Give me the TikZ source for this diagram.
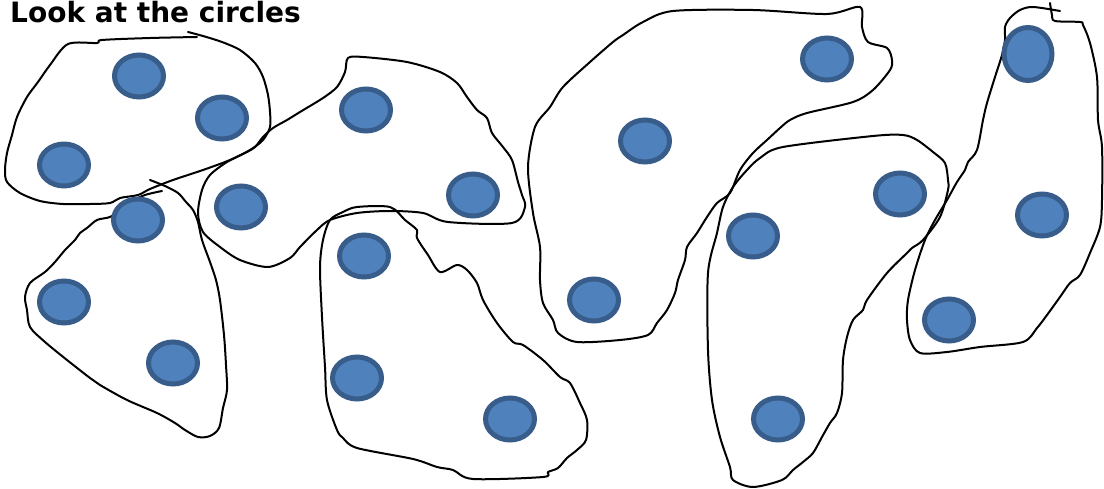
\documentclass[tikz,border=0pt]{standalone}
\usepackage{fontspec}
\setmainfont{DejaVu Sans}
\usepackage{xcolor}
\usepackage{tikz}
\usetikzlibrary{positioning}
\definecolor{dotfill}{HTML}{4F81BD}
\definecolor{dotedge}{HTML}{385D8A}

\begin{document}
\begin{tikzpicture}[x=1pt,y=-1pt,
  blob/.style={draw=black,line width=2pt,line join=round,line cap=round},
  dot/.style={fill=dotfill,draw=dotedge,line width=5pt}]
  \useasboundingbox (0,0) rectangle (1104,489);
  \clip (0,0) rectangle (1104,489);
  % Title
  \node[anchor=base west,inner sep=0pt] (title) at (10,23)
    {\fontsize{28}{28}\selectfont\bfseries Look at the circles};

  % Blob top left
  \draw[blob] plot[smooth,tension=0.5] coordinates {(188,32) (203,36) (222,42) (240,50) (255,63) (263,77) (268,95) (270,112) (270,127) (263,140) (250,150) (230,160) (203,170) (173,180) (150,189) (138,195) (120,198) (110,203) (90,204) (63,204) (40,201) (20,193) (7,182) (5,170) (7,153) (12,135) (17,117) (27,97) (38,82) (50,65) (68,44) (97,43) (102,40) (150,38) (197,37)};
  % Blob bottom left
  \draw[blob] plot[smooth,tension=0.5] coordinates {(150,180) (165,186) (178,193) (186,202) (193,210) (198,222) (202,240) (210,262) (216,280) (220,300) (224,335) (226,365) (227,390) (223,408) (219,428) (210,436) (198,437) (185,430) (175,423) (157,413) (127,400) (100,385) (90,378) (67,360) (45,342) (30,327) (27,310) (25,297) (30,283) (45,272) (55,262) (65,250) (75,240) (80,233) (87,228) (97,220) (110,217) (120,210) (130,202) (145,195) (162,191)};
  % Blob top middle
  \draw[blob] plot[smooth cycle,tension=0.5] coordinates {(348,58) (363,57) (407,62) (440,72) (457,83) (467,97) (477,110) (487,118) (492,133) (503,147) (512,160) (518,182) (522,195) (525,207) (512,223) (448,222) (423,213) (390,211) (357,213) (330,220) (317,230) (300,247) (290,258) (268,267) (240,260) (220,247) (203,232) (198,213) (202,190) (210,175) (227,162) (245,153) (255,147) (263,137) (273,128) (287,120) (300,112) (323,98) (337,87) (345,72)};
  % Blob bottom middle
  \draw[blob] plot[smooth cycle,tension=0.5] coordinates {(330,220) (343,212) (357,207) (390,207) (405,220) (417,230) (417,238) (428,255) (440,272) (457,265) (467,270) (477,283) (483,300) (497,323) (513,342) (523,345) (543,360) (560,377) (570,383) (580,403) (587,420) (586,440) (577,450) (567,458) (558,468) (548,472) (543,477) (473,479) (453,470) (437,467) (413,459) (357,448) (343,438) (337,430) (327,400) (325,367) (322,317) (320,267) (323,240)};
  % Blob top right
  \draw[blob] plot[smooth cycle,tension=0.5] coordinates {(673,11) (753,10) (827,14) (860,7) (862,27) (868,42) (887,48) (892,60) (890,70) (873,90) (853,102) (807,113) (790,120) (780,128) (767,140) (753,153) (740,170) (730,193) (717,203) (707,217) (697,233) (687,247) (685,260) (678,280) (675,293) (667,310) (657,323) (648,335) (620,340) (577,342) (558,333) (553,320) (543,303) (540,280) (540,247) (533,213) (528,167) (535,127) (550,107) (563,87) (590,62) (613,42) (623,35) (643,22)};
  % Blob bottom right
  \draw[blob] plot[smooth cycle,tension=0.5] coordinates {(783,147) (873,136) (903,135) (917,140) (933,152) (945,163) (948,180) (948,190) (940,217) (923,240) (912,248) (907,253) (887,273) (867,300) (863,310) (853,320) (847,337) (843,360) (842,393) (837,413) (830,423) (822,437) (813,453) (803,462) (793,470) (782,480) (753,487) (733,480) (730,467) (720,437) (712,400) (708,350) (708,273) (717,233) (723,207) (733,187) (747,170) (760,158)};
  % Blob far right
  \draw[blob] plot[smooth,tension=0.5] coordinates {(1060,11) (1033,7) (1020,10) (1010,18) (1005,27) (1005,40) (1002,55) (995,77) (987,103) (983,120) (977,150) (968,162) (965,170) (957,182) (947,200) (935,220) (925,240) (915,270) (908,300) (907,320) (910,340) (920,353) (947,352) (980,347) (1023,342) (1037,328) (1047,315) (1060,297) (1070,283) (1080,275) (1090,253) (1100,227) (1102,200) (1102,147) (1098,120) (1097,77) (1090,43) (1083,25) (1080,22) (1055,21) (1052,15) (1050,3)};

  % Circles
  \foreach \x/\y in {139/76, 222/118, 64/165, 138/220, 64/302, 173/363,
                     366/110, 241/207, 473/195, 364/256, 357/378, 510/419,
                     827/59, 645/141, 594/300, 753/236, 900/194, 778/419,
                     1042/215, 949/320}
    \filldraw[dot] (\x,\y) ellipse (24.5 and 21);
  \filldraw[dot] (1028,54) ellipse (24 and 26.5);
\end{tikzpicture}
\end{document}
